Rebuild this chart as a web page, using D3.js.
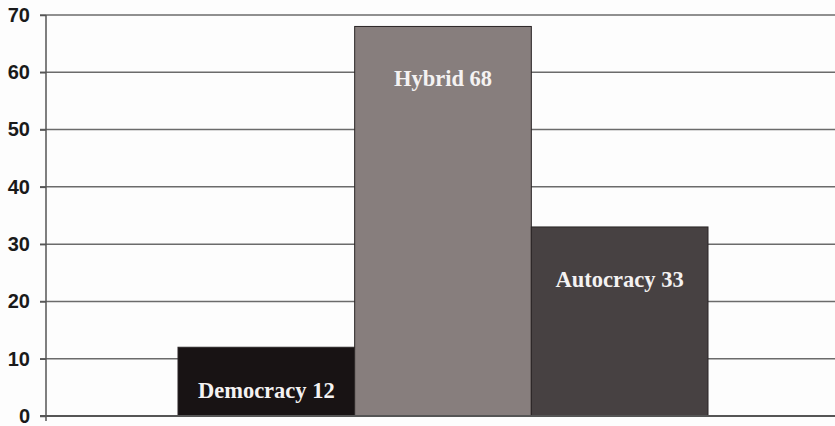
<!DOCTYPE html>
<html><head><meta charset="utf-8">
<script src="https://cdn.jsdelivr.net/npm/d3@7"></script>
<style>html,body{margin:0;padding:0;background:#fdfdfd;}</style>
</head><body>
<svg id="c" width="835" height="426"></svg>
<script>
const categories = ["Democracy", "Hybrid", "Autocracy"];
const values = [12, 68, 33];
const colors = ["#181314", "#877e7d", "#474142"];
const yTicks = [0, 10, 20, 30, 40, 50, 60, 70];

const svg = d3.select("#c");
const y = d3.scaleLinear().domain([0, 70]).range([416, 15]);
const x = d3.scaleBand().domain(categories).range([178, 708]).padding(0);
const axisX = 46;

svg.append("rect").attr("width", 835).attr("height", 426).attr("fill", "#fdfdfd");

// gridlines
svg.append("g").selectAll("line").data(yTicks.filter(d => d > 0)).join("line")
  .attr("x1", 40).attr("x2", 835)
  .attr("y1", d => y(d)).attr("y2", d => y(d))
  .attr("stroke", "#6b6b6b").attr("stroke-width", 1.5);

// bars
const data = categories.map((c, i) => ({c, v: values[i], col: colors[i]}));
svg.append("g").selectAll("rect").data(data).join("rect")
  .attr("x", d => x(d.c)).attr("width", x.bandwidth())
  .attr("y", d => y(d.v)).attr("height", d => y(0) - y(d.v))
  .attr("fill", d => d.col).attr("stroke", "#2a2526").attr("stroke-width", 1);

// labels
svg.append("g").selectAll("text").data(data).join("text")
  .attr("x", d => x(d.c) + x.bandwidth() / 2)
  .attr("y", d => Math.min(y(d.v) + 60, y(0) - 18))
  .attr("text-anchor", "middle")
  .attr("fill", "#f4f2f2")
  .attr("font-family", "'Liberation Serif', 'Times New Roman', serif")
  .attr("font-weight", "bold").attr("font-size", 22.5)
  .text(d => d.c + " " + d.v);

// y axis
const yAxis = d3.axisLeft(y).tickValues(yTicks).tickSize(6).tickPadding(10).tickFormat(d3.format("d"));
const ga = svg.append("g").attr("transform", `translate(${axisX},0)`).call(yAxis);
ga.select(".domain").attr("stroke", "#555").attr("stroke-width", 1.5).attr("d", `M0,${y(70)}V${y(0) + 5}`);
ga.selectAll(".tick line").attr("stroke", "#555").attr("stroke-width", 1.5);
ga.selectAll(".tick text").attr("font-family", "'Liberation Sans', Arial, sans-serif")
  .attr("font-weight", "bold").attr("font-size", 20).attr("fill", "#1a1a1a");

// x baseline
svg.append("line").attr("x1", 40).attr("x2", 835).attr("y1", y(0)).attr("y2", y(0))
  .attr("stroke", "#555").attr("stroke-width", 2);
</script>
</body></html>
